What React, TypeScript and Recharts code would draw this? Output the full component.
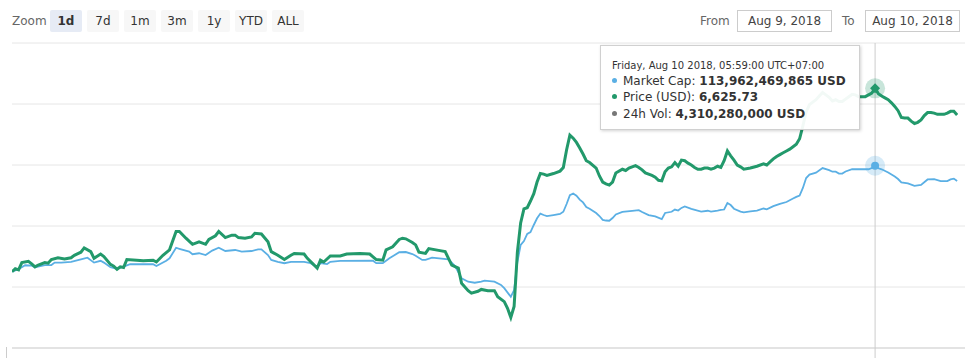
import React from 'react';
import { LineChart, Line, XAxis, YAxis, CartesianGrid, ReferenceLine, ReferenceDot } from 'recharts';

// minutes since Aug 9 2018 08:04 (UTC+7), one reading every ~5 min
const priceTimes = [
  0, 5, 10, 15, 25, 30, 35, 40, 50, 55, 60, 70, 80, 90, 95, 105, 110, 120, 125, 135, 140, 150, 155, 160, 165, 170, 175, 190, 200, 215,
  220, 230, 240, 250, 255, 265, 275, 285, 295, 300, 310, 315, 325, 335, 340, 345, 355, 365, 370, 380, 390, 395, 405, 415, 425, 430, 445, 450, 465, 470,
  475, 485, 495, 500, 510, 530, 545, 555, 565, 570, 580, 590, 595, 600, 610, 615, 620, 630, 635, 650, 660, 670, 680, 685, 695, 700, 710, 715, 725, 735,
  740, 750, 755, 760, 765, 770, 775, 780, 785, 790, 795, 800, 805, 810, 815, 825, 835, 840, 845, 850, 855, 860, 865, 870, 875, 880, 890, 895, 900, 905,
  910, 915, 920, 930, 935, 940, 950, 955, 960, 965, 975, 980, 985, 990, 995, 1000, 1005, 1010, 1015, 1020, 1025, 1030, 1035, 1040, 1045, 1050, 1055, 1060, 1065, 1070,
  1075, 1080, 1085, 1090, 1095, 1100, 1105, 1110, 1115, 1125, 1135, 1145, 1150, 1155, 1160, 1165, 1170, 1175, 1180, 1185, 1190, 1195, 1200, 1205, 1210, 1215, 1220, 1225, 1230, 1235,
  1240, 1245, 1250, 1255, 1260, 1265, 1270, 1275, 1280, 1285, 1290, 1300, 1305, 1310, 1315, 1320, 1325, 1330, 1335, 1340, 1345, 1350, 1355, 1360, 1365, 1370, 1375, 1380, 1385, 1390,
  1395, 1400, 1405, 1410, 1420, 1425, 1430, 1435, 1440,
];
const priceUsd = [
  6325, 6330, 6328, 6340, 6342, 6338, 6333, 6336, 6340, 6339, 6345, 6348, 6346, 6348, 6352, 6357, 6364, 6358, 6347, 6354, 6350, 6337, 6334, 6329, 6333, 6332, 6345, 6344, 6343, 6344,
  6341, 6352, 6361, 6391, 6391, 6380, 6370, 6374, 6370, 6378, 6384, 6391, 6381, 6385, 6385, 6381, 6380, 6382, 6388, 6387, 6374, 6358, 6352, 6345, 6352, 6355, 6354, 6347, 6331, 6344,
  6341, 6351, 6351, 6351, 6354, 6355, 6354, 6345, 6344, 6361, 6366, 6378, 6380, 6379, 6373, 6369, 6357, 6355, 6363, 6360, 6358, 6336, 6331, 6306, 6294, 6290, 6293, 6296, 6294, 6294,
  6284, 6276, 6265, 6250, 6268, 6357, 6405, 6428, 6430, 6441, 6453, 6472, 6486, 6485, 6483, 6486, 6490, 6496, 6525, 6549, 6544, 6537, 6528, 6518, 6507, 6504, 6495, 6482, 6472, 6469,
  6467, 6472, 6487, 6493, 6491, 6495, 6499, 6496, 6492, 6487, 6483, 6480, 6475, 6474, 6489, 6495, 6497, 6504, 6498, 6508, 6507, 6503, 6500, 6496, 6493, 6493, 6495, 6495, 6493, 6495,
  6498, 6496, 6507, 6523, 6515, 6508, 6500, 6497, 6493, 6495, 6498, 6502, 6500, 6505, 6510, 6514, 6517, 6520, 6523, 6526, 6530, 6534, 6543, 6564, 6587, 6599, 6603, 6607, 6613, 6619,
  6615, 6611, 6605, 6607, 6604, 6604, 6608, 6612, 6616, 6615, 6612, 6612, 6615, 6618, 6625.73, 6617, 6613, 6610, 6607, 6602, 6596, 6589, 6578, 6577, 6577, 6572, 6568, 6570, 6574, 6581,
  6586, 6586, 6585, 6583, 6583, 6585, 6588, 6588, 6582,
];

const capTimes = [
  0, 10, 20, 30, 35, 50, 60, 65, 75, 90, 105, 115, 125, 135, 140, 150, 160, 170, 180, 215, 220, 235, 240, 250, 255, 270, 275, 285, 295, 305,
  315, 325, 340, 350, 365, 375, 380, 390, 395, 405, 415, 425, 445, 455, 465, 470, 480, 485, 500, 550, 555, 565, 575, 590, 600, 610, 615, 625, 630, 640,
  665, 675, 685, 695, 705, 715, 720, 735, 745, 750, 760, 765, 770, 775, 780, 785, 790, 795, 800, 805, 810, 815, 825, 835, 840, 845, 850, 855, 860, 865,
  870, 875, 880, 890, 895, 900, 905, 910, 915, 920, 930, 945, 955, 960, 970, 980, 990, 995, 1005, 1010, 1015, 1020, 1025, 1035, 1050, 1060, 1065, 1075, 1080, 1085,
  1090, 1095, 1100, 1110, 1115, 1125, 1135, 1145, 1150, 1160, 1170, 1180, 1190, 1195, 1200, 1205, 1210, 1215, 1225, 1235, 1245, 1250, 1255, 1260, 1265, 1270, 1280, 1290, 1305, 1310,
  1315, 1320, 1325, 1335, 1345, 1350, 1355, 1365, 1375, 1385, 1395, 1405, 1415, 1425, 1430, 1435, 1440,
];
// market cap, billions of USD
const marketCapB = [
  108.75, 108.87, 109.07, 109.05, 108.97, 109.08, 109.08, 109.2, 109.2, 109.24, 109.36, 109.44, 109.2, 109.29, 109.2, 108.97, 108.89, 109.0, 109.12, 109.12, 109.03, 109.29, 109.41, 109.93, 109.88, 109.74, 109.61, 109.66, 109.57, 109.79,
  109.93, 109.77, 109.82, 109.74, 109.77, 109.85, 109.85, 109.57, 109.33, 109.24, 109.17, 109.24, 109.24, 109.17, 108.97, 109.17, 109.13, 109.24, 109.28, 109.29, 109.17, 109.17, 109.41, 109.71, 109.72, 109.62, 109.54, 109.33, 109.33, 109.44,
  109.36, 109.03, 108.43, 108.26, 108.21, 108.26, 108.31, 108.26, 108.1, 107.94, 107.52, 107.85, 109.23, 110.07, 110.26, 110.61, 110.7, 111.05, 111.38, 111.61, 111.54, 111.49, 111.54, 111.59, 111.7, 112.08, 112.52, 112.6, 112.49, 112.3,
  112.16, 111.93, 111.85, 111.64, 111.49, 111.3, 111.27, 111.26, 111.39, 111.57, 111.69, 111.74, 111.78, 111.69, 111.54, 111.47, 111.34, 111.64, 111.7, 111.81, 111.76, 111.89, 111.96, 111.84, 111.71, 111.75, 111.71, 111.76, 111.79, 111.81,
  112.13, 112.03, 111.85, 111.71, 111.67, 111.72, 111.76, 111.86, 111.82, 111.98, 112.09, 112.18, 112.35, 112.43, 112.5, 112.87, 113.36, 113.53, 113.62, 113.85, 113.75, 113.67, 113.67, 113.58, 113.58, 113.68, 113.79, 113.79, 113.79, 113.85,
  113.962469865, 113.84, 113.79, 113.63, 113.43, 113.31, 113.14, 113.1, 112.97, 113.02, 113.29, 113.3, 113.21, 113.21, 113.29, 113.33, 113.21,
];

const zoomButtons = ['1d', '7d', '1m', '3m', '1y', 'YTD', 'ALL'];
const priceTicks = [6100, 6200, 6300, 6400, 6500, 6600, 6700];
const capTicks = [102, 105, 108, 111, 114, 117, 120];

const hoverTime = 1315;
const hoverLabel = 'Friday, Aug 10 2018, 05:59:00 UTC+07:00';
const hoverCap = '113,962,469,865 USD';
const hoverPrice = '6,625.73';
const hoverVol = '4,310,280,000 USD';

const GREEN = '#22996b';
const BLUE = '#5aafe4';
const FONT = '"Lucida Grande", "Lucida Sans Unicode", "DejaVu Sans", Arial, sans-serif';

const priceData = priceTimes.map((t, i) => ({ t, price: priceUsd[i] }));
const capData = capTimes.map((t, i) => ({ t, cap: marketCapB[i] }));
const hoverIdxPrice = priceTimes.indexOf(hoverTime);
const hoverIdxCap = capTimes.indexOf(hoverTime);

const Diamond = (props: any) => {
  const { cx, cy } = props;
  if (cx == null || cy == null) return null;
  return (
    <g>
      <circle cx={cx} cy={cy} r={10} fill={GREEN} fillOpacity={0.25} />
      <path d={`M${cx},${cy - 5}L${cx + 5},${cy}L${cx},${cy + 5}L${cx - 5},${cy}Z`} fill={GREEN} />
    </g>
  );
};

const Circle = (props: any) => {
  const { cx, cy } = props;
  if (cx == null || cy == null) return null;
  return (
    <g>
      <circle cx={cx} cy={cy} r={10} fill={BLUE} fillOpacity={0.25} />
      <circle cx={cx} cy={cy} r={4} fill={BLUE} />
    </g>
  );
};

const dot = (color: string) => (
  <span style={{ display: 'inline-block', width: 5, height: 5, borderRadius: '50%', background: color, marginRight: 6, verticalAlign: 'middle', position: 'relative', top: -1 }} />
);

export default function App() {
  return (
    <div style={{ position: 'fixed', left: 0, top: 0, width: 965, height: 358, overflow: 'hidden', background: '#fff', fontFamily: FONT }}>
      <div style={{ position: 'absolute', left: 12, top: 10, height: 22, lineHeight: '22px', fontSize: 12, color: '#666' }}>Zoom</div>
      {zoomButtons.map((b, i) => (
        <div
          key={b}
          style={{
            position: 'absolute', left: 50 + i * 37, top: 10, width: 32, height: 22, lineHeight: '22px', textAlign: 'center',
            fontSize: 12, color: '#333', fontWeight: i === 0 ? 'bold' : 'normal', background: i === 0 ? '#e6ebf5' : '#f7f7f7', borderRadius: 2,
          }}
        >
          {b}
        </div>
      ))}
      <div style={{ position: 'absolute', left: 700, top: 10, height: 22, lineHeight: '22px', fontSize: 12, color: '#666' }}>From</div>
      <div style={{ position: 'absolute', left: 737, top: 10, width: 93, height: 20, lineHeight: '20px', border: '1px solid #ccc', textAlign: 'center', fontSize: 12, color: '#444' }}>Aug 9, 2018</div>
      <div style={{ position: 'absolute', left: 842, top: 10, height: 22, lineHeight: '22px', fontSize: 12, color: '#666' }}>To</div>
      <div style={{ position: 'absolute', left: 865, top: 10, width: 93, height: 20, lineHeight: '20px', border: '1px solid #ccc', textAlign: 'center', fontSize: 12, color: '#444' }}>Aug 10, 2018</div>

      <div style={{ position: 'absolute', left: 0, top: 0, zIndex: 1 }}>
        <LineChart width={965} height={420} margin={{ top: 43, right: 0, bottom: 11, left: 12 }}>
          <CartesianGrid vertical={false} stroke="#e6e6e6" yAxisId="price" />
          <XAxis type="number" dataKey="t" domain={[0, 1452]} hide allowDataOverflow />
          <YAxis yAxisId="price" domain={[6100, 6700]} ticks={priceTicks} hide allowDataOverflow />
          <YAxis yAxisId="cap" orientation="right" domain={[102, 120]} ticks={capTicks} hide allowDataOverflow />
          <ReferenceLine yAxisId="price" y={6200} stroke="#e3e3e3" strokeWidth={2} />
          <ReferenceLine yAxisId="price" x={hoverTime} stroke="#cccccc" />
          <Line yAxisId="cap" data={capData} dataKey="cap" type="linear" stroke={BLUE} strokeWidth={1.8} dot={false} activeDot={false} isAnimationActive={false} />
          <Line yAxisId="price" data={priceData} dataKey="price" type="linear" stroke={GREEN} strokeWidth={3} dot={false} activeDot={false} isAnimationActive={false} />
          <ReferenceDot yAxisId="cap" x={hoverTime} y={marketCapB[hoverIdxCap]} shape={Circle} />
          <ReferenceDot yAxisId="price" x={hoverTime} y={priceUsd[hoverIdxPrice]} shape={Diamond} />
        </LineChart>
      </div>

      <div style={{ position: 'absolute', left: 6, top: 347, width: 1, height: 11, background: '#ccc' }} />

      <div
        style={{
          position: 'absolute', left: 600, top: 45, width: 258, height: 83, background: 'rgba(255,255,255,0.94)', border: '1px solid #d0d0d0',
          boxShadow: '1px 1px 3px rgba(0,0,0,0.18)', color: '#333', whiteSpace: 'nowrap', zIndex: 10,
        }}
      >
        <div style={{ position: 'absolute', left: 11, top: 14, fontSize: 10, lineHeight: '12px' }}>{hoverLabel}</div>
        <div style={{ position: 'absolute', left: 11, top: 27, fontSize: 12, lineHeight: '16px' }}>
          {dot(BLUE)}Market Cap: <b>{hoverCap}</b>
        </div>
        <div style={{ position: 'absolute', left: 11, top: 43, fontSize: 12, lineHeight: '16px' }}>
          {dot(GREEN)}Price (USD): <b>{hoverPrice}</b>
        </div>
        <div style={{ position: 'absolute', left: 11, top: 60, fontSize: 12, lineHeight: '16px' }}>
          {dot('#777')}24h Vol: <b>{hoverVol}</b>
        </div>
      </div>
    </div>
  );
}
